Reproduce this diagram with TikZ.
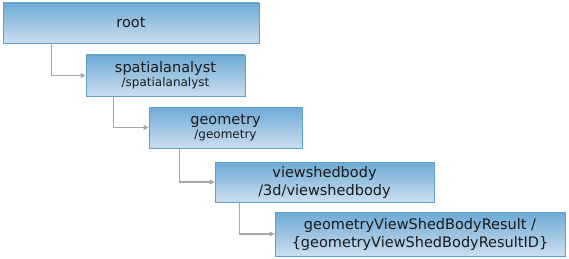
\documentclass[tikz,border=0pt]{standalone}
\usepackage{fontspec}
\setmainfont{DejaVu Sans}
\usetikzlibrary{arrows.meta,positioning}
\definecolor{boxtop}{HTML}{6DAAD5}
\definecolor{boxbot}{HTML}{CCDEF0}
\definecolor{boxline}{HTML}{5E9FCC}
\definecolor{connline}{HTML}{A8A8A8}
\definecolor{txtdark}{HTML}{1A1A1A}
\newcommand{\subpathfont}{\fontsize{12}{13}\selectfont}

\tikzset{
  resbox/.style={rectangle,draw=boxline,line width=0.8pt,top color=boxtop,bottom color=boxbot,
    text=txtdark,align=center,inner sep=0pt,font=\fontsize{14.5}{18}\selectfont},
  conn/.style={draw=connline,line width=1.2pt,-{Triangle[length=5pt,width=5pt]}}
}

\begin{document}
\begin{tikzpicture}[x=1pt,y=1pt]
\useasboundingbox (0,0) rectangle (569,-259);
\node[resbox,minimum width=256,minimum height=40] (root) at (131,-23) {root};
\node[resbox,minimum width=159,minimum height=41] (spatial) at (165.5,-75.5)
  {spatialanalyst\\[-4pt]{\subpathfont /spatialanalyst}};
\node[resbox,minimum width=153,minimum height=41] (geom) at (225.5,-127.5)
  {geometry\\[-4pt]{\subpathfont /geometry}};
\node[resbox,minimum width=219,minimum height=40] (viewshed) at (324.5,-182)
  {viewshedbody\\/3d/viewshedbody};
\node[resbox,minimum width=290,minimum height=44] (result) at (420,-234)
  {geometryViewShedBodyResult /\\\{geometryViewShedBodyResultID\}};
% connectors
\draw[conn] ([xshift=49pt]root.south west) |- (spatial.west);
\draw[conn] ([xshift=28pt]spatial.south west) |- (geom.west);
\draw[conn] ([xshift=31pt]geom.south west) |- (viewshed.west);
\draw[conn] ([xshift=25pt]viewshed.south west) |- (result.west);
\end{tikzpicture}
\end{document}
